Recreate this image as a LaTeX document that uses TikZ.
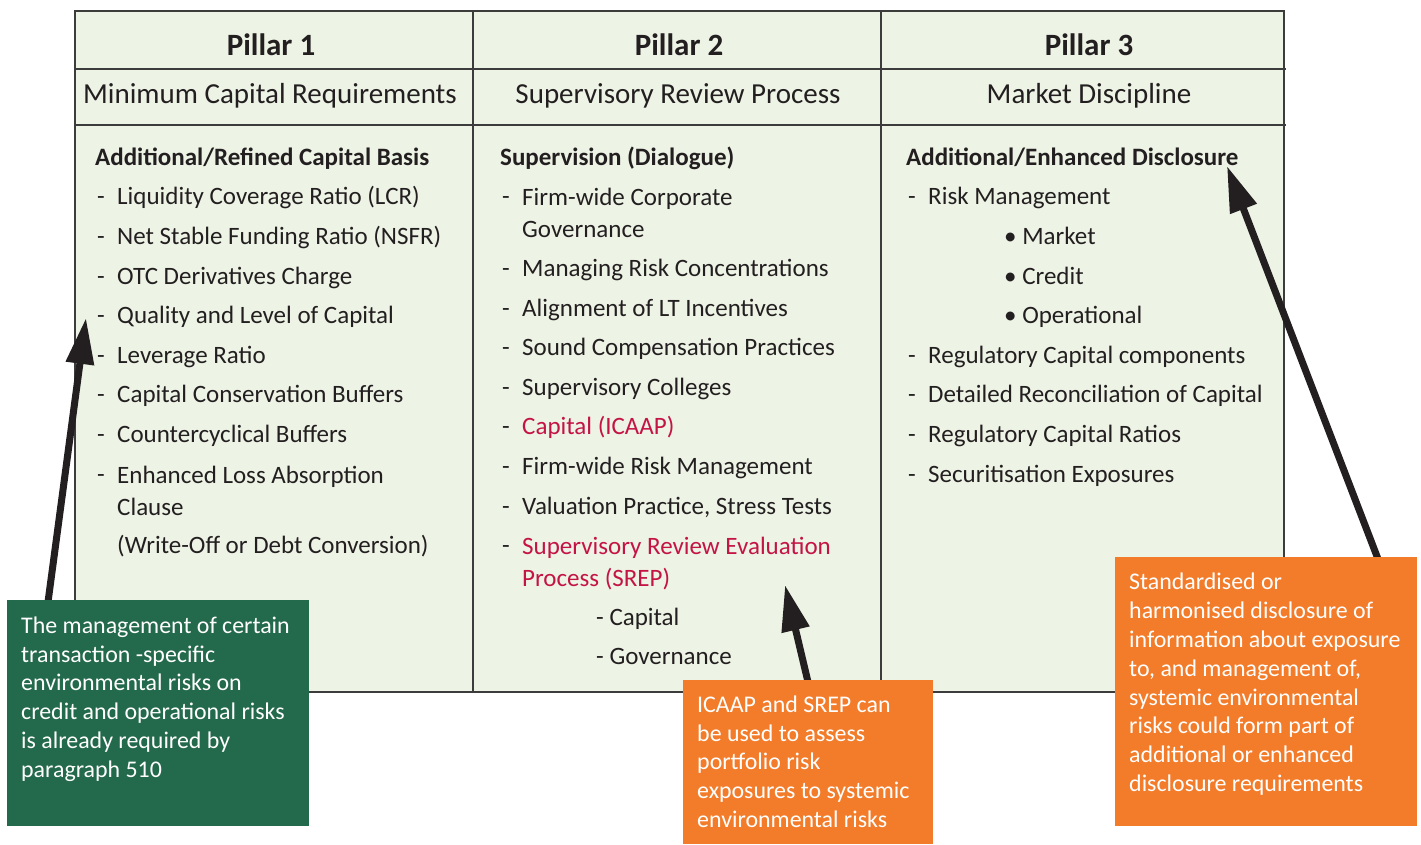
\documentclass[tikz,border=0pt]{standalone}
\usepackage{fontspec}
\setmainfont{Carlito}
\usetikzlibrary{arrows.meta,calc}
\definecolor{tablebg}{RGB}{237,243,229}
\definecolor{rulegray}{RGB}{60,60,60}
\definecolor{inktext}{RGB}{35,31,32}
\definecolor{srepred}{RGB}{196,20,70}
\definecolor{notegreen}{RGB}{35,105,75}
\definecolor{noteorange}{RGB}{243,124,42}
\tikzset{>=stealth,
  head/.style={anchor=base,font=\fontsize{31}{36}\selectfont\bfseries,text=inktext},
  subhead/.style={anchor=base,font=\fontsize{29}{35}\selectfont,text=inktext},
  listhead/.style={anchor=base west,inner sep=0pt,font=\fontsize{25}{32}\selectfont\bfseries,text=inktext},
  item/.style={anchor=base west,inner sep=0pt,align=left,font=\fontsize{25}{32}\selectfont,text=inktext},
  note/.style={anchor=north west,inner xsep=14pt,inner ysep=0pt,text=white,
    font=\fontsize{23.9}{28.8}\selectfont},
  pointer/.style={line width=7pt,draw=inktext,-{Triangle[length=46pt,width=27pt]}}}
% dash and entry text of one list line
\newcommand*{\dashitem}[5]
  {\node[item] (#1d) at (#2,#3) {-};
   \node[item,#5] (#1) at ($(#2,#3)+(20,0)$) {#4}}
% dash and entry text of a list entry over two lines
\newcommand*{\dashwrap}[6]
  {\node[item] (#1d) at (#2,#3) {-};
   \node[item,#6] (#1) at ($(#2,#3)+(20,33)$) {#4\\#5}}

\begin{document}
\begin{tikzpicture}[x=1pt,y=-1pt]
\useasboundingbox (0,0) rectangle (1421,844);
\coordinate (T1) at (75,11);
\coordinate (T2) at (1284,692);
\fill[tablebg] (T1) rectangle (T2);
\draw[rulegray,line width=1.2pt] (T1) rectangle (T2);
\draw[rulegray,line width=1.2pt] (75,69) -- (1286,69) (75,125) -- (1286,125);
\draw[rulegray,line width=1.2pt] (473,11) -- (473,692) (881,11) -- (881,692);

\node[head] (p1) at (271,55) {Pillar 1};
\node[head] (p2) at (679,55) {Pillar 2};
\node[head] (p3) at (1089,55) {Pillar 3};
\node[subhead] (s1) at (270,103) {Minimum Capital Requirements};
\node[subhead] (s2) at (678,103) {Supervisory Review Process};
\node[subhead] (s3) at (1089,103) {Market Discipline};

% Pillar 1
\node[listhead] (h1) at (95,165) {Additional/Refined Capital Basis};
\dashitem{a1}{97}{204}{Liquidity Coverage Ratio (LCR)}{};
\dashitem{a2}{97}{244}{Net Stable Funding Ratio (NSFR)}{};
\dashitem{a3}{97}{284}{OTC Derivatives Charge}{};
\dashitem{a4}{97}{323}{Quality and Level of Capital}{};
\dashitem{a5}{97}{363}{Leverage Ratio}{};
\dashitem{a6}{97}{402}{Capital Conservation Buffers}{};
\dashitem{a7}{97}{442}{Countercyclical Buffers}{};
\dashwrap{a8}{97}{482}{Enhanced Loss Absorption}{Clause}{};
\node[item] (a9) at (117,553) {(Write-Off or Debt Conversion)};

% Pillar 2
\node[listhead] (h2) at (500,165) {Supervision (Dialogue)};
\dashwrap{b1}{502}{204}{Firm-wide Corporate}{Governance}{};
\dashitem{b2}{502}{276}{Managing Risk Concentrations}{};
\dashitem{b3}{502}{316}{Alignment of LT Incentives}{};
\dashitem{b4}{502}{355}{Sound Compensation Practices}{};
\dashitem{b5}{502}{395}{Supervisory Colleges}{};
\dashitem{b6}{502}{434}{Capital (ICAAP)}{text=srepred};
\dashitem{b7}{502}{474}{Firm-wide Risk Management}{};
\dashitem{b8}{502}{514}{Valuation Practice, Stress Tests}{};
\dashwrap{b9}{502}{553}{Supervisory Review Evaluation}{Process (SREP)}{text=srepred};
\node[item] (b10) at (596,625) {- Capital};
\node[item] (b11) at (596,664) {- Governance};

% Pillar 3
\node[listhead] (h3) at (906,165) {Additional/Enhanced Disclosure};
\dashitem{c1}{908}{204}{Risk Management}{};
\node[item] (c2) at (1004,244) {\textbullet\ Market};
\node[item] (c3) at (1004,284) {\textbullet\ Credit};
\node[item] (c4) at (1004,323) {\textbullet\ Operational};
\dashitem{c5}{908}{363}{Regulatory Capital components}{};
\dashitem{c6}{908}{402}{Detailed Reconciliation of Capital}{};
\dashitem{c7}{908}{442}{Regulatory Capital Ratios}{};
\dashitem{c8}{908}{482}{Securitisation Exposures}{};

% notes and their pointers
\coordinate (n1) at (7,600);
\coordinate (n2) at (683,680);
\coordinate (n3) at (1115,557);
\coordinate (tip1) at (86,318);
\coordinate (tip2) at (785,585);
\coordinate (tip3) at (1227,166);
\draw[pointer] ($(n1)+(41,2)$) -- (tip1);
\draw[pointer] ($(n2)+(125,2)$) -- (tip2);
\draw[pointer] ($(n3)+(263,2)$) -- (tip3);

\node[note,fill=notegreen,minimum width=302pt,minimum height=226pt] (g1) at (n1)
  {\parbox[b][200pt][t]{274pt}{\strut The management of certain\\
   transaction -specific\\ environmental risks on\\ credit and operational risks\\
   is already required by\\ paragraph 510}};
\node[note,fill=noteorange,minimum width=250pt,minimum height=164pt] (o1) at (n2)
  {\parbox[b][140pt][t]{222pt}{\strut ICAAP and SREP can\\ be used to assess\\
   portfolio risk\\ exposures to systemic\\ environmental risks}};
\node[note,fill=noteorange,minimum width=302pt,minimum height=269pt] (o2) at (n3)
  {\parbox[b][244pt][t]{274pt}{\strut Standardised or\\ harmonised disclosure of\\
   information about exposure\\ to, and management of,\\ systemic environmental\\
   risks could form part of\\ additional or enhanced\\ disclosure requirements}};
\end{tikzpicture}
\end{document}
